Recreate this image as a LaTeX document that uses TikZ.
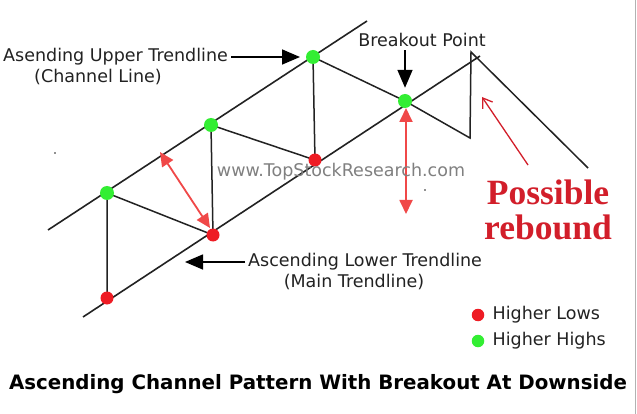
\documentclass[tikz,border=0pt]{standalone}
\usepackage{fontspec}
\setmainfont{DejaVu Sans}
\newfontfamily\rebfont{Liberation Serif}
\usetikzlibrary{positioning, arrows.meta, calc}
\definecolor{ptRed}{HTML}{EE1C24}
\definecolor{ptGreen}{HTML}{33EE33}
\definecolor{arRed}{HTML}{F04848}
\definecolor{txRed}{HTML}{D21E2A}
\definecolor{wmGray}{HTML}{808080}
\definecolor{lnDark}{HTML}{222222}
\tikzset{
  every node/.style={font=\fontsize{17.5}{20}\selectfont, text=lnDark},
  trend/.style={lnDark, line width=1.6pt},
  zig/.style={lnDark, line width=1.5pt},
  lowpt/.style={circle, fill=ptRed, minimum size=13pt, inner sep=0pt},
  highpt/.style={circle, fill=ptGreen, minimum size=14pt, inner sep=0pt},
  keypt/.style={circle, minimum size=12.5pt, inner sep=0pt},
  callout/.style={-{Triangle[length=18pt, width=15pt]}, black, line width=1.6pt},
  span/.style={{Triangle[length=14pt, width=13pt]}-{Triangle[length=14pt, width=13pt]}, arRed, line width=1.8pt},
}
\begin{document}
\begin{tikzpicture}[x=1pt, y=-1pt]
  \useasboundingbox[fill=white] (0,0) rectangle (637,414);
  \draw[gray!60, line width=1pt] (635,0) -- (635,414);
  % channel lines
  \coordinate (up0) at (48,230);
  \coordinate (up1) at (367,21);
  \coordinate (lo0) at (83,317);
  \coordinate (lo1) at (480,56);
  \draw[trend] (up0) -- (up1);
  \draw[trend] (lo0) -- (lo1);
  % swing points
  \coordinate (l1) at (107,298);
  \coordinate (h1) at (107,193);
  \coordinate (l2) at (213,235);
  \coordinate (h2) at (211,125);
  \coordinate (l3) at (315,160);
  \coordinate (h3) at (313,57);
  \coordinate (bo) at (405,101);
  \coordinate (z1) at (470,138);
  \coordinate (z2) at (471,52);
  \coordinate (z3) at (588,168);
  \draw[zig] (l1) -- (h1) -- (l2) -- (h2) -- (l3) -- (h3) -- (bo) -- (z1) -- (z2) -- (z3);
  % channel width arrows
  \coordinate (sp1a) at (160,152);
  \coordinate (sp1b) at (210,228);
  \coordinate (sp2a) at (406,108);
  \coordinate (sp2b) at (406,214);
  \draw[span] (sp1a) -- (sp1b);
  \draw[span] (sp2a) -- (sp2b);
  % dots
  \node[lowpt] (dl1) at (l1) {};
  \node[lowpt] (dl2) at (l2) {};
  \node[lowpt] (dl3) at (l3) {};
  \node[highpt] (dh1) at (h1) {};
  \node[highpt] (dh2) at (h2) {};
  \node[highpt] (dh3) at (h3) {};
  \node[highpt] (dbo) at (bo) {};
  % labels
  \node[anchor=west, inner sep=3pt] (upper) at (0,57) {Asending Upper Trendline};
  \node (upperb) at (98,77) {(Channel Line)};
  \draw[callout, shorten >=13pt] (upper.east) -- (upper.east -| dh3);
  \node (bpt) at (422,40) {Breakout Point};
  \draw[callout, shorten >=6pt] (bpt.south -| dbo) -- (dbo);
  \node[anchor=west, inner sep=3pt] (lower) at (245,262) {Ascending Lower Trendline};
  \node (lowerb) at (354,282) {(Main Trendline)};
  \coordinate (lotip) at (185,262);
  \draw[callout] (lower.west) -- (lotip);
  \node[text=wmGray] (wm) at (341,172) {www.TopStockResearch.com};
  % rebound
  \node[align=center, text=txRed, font=\rebfont\bfseries\fontsize{35.5}{35}\selectfont] (reb) at (548,210) {Possible\\rebound};
  \coordinate (rbtip) at (482,97);
  \coordinate (rbend) at (528,165);
  \draw[txRed, line width=1.3pt, -{Straight Barb[length=9pt, width=12pt]}] (rbend) -- (rbtip);
  % specks
  \fill[lnDark] (55,153) circle (0.9pt);
  \fill[lnDark] (425,190) circle (0.9pt);
  % legend
  \node[keypt, fill=ptRed] (kl) at (478,315) {};
  \node[anchor=west, inner sep=2pt] (kltx) at ([xshift=6pt]kl.east) {Higher Lows};
  \node[keypt, fill=ptGreen] (kh) at (478,341) {};
  \node[anchor=west, inner sep=2pt] (khtx) at ([xshift=6pt]kh.east) {Higher Highs};
  % title
  \node[font=\bfseries\fontsize{19.8}{22}\selectfont, text=black] (title) at (318,384) {Ascending Channel Pattern With Breakout At Downside};
\end{tikzpicture}
\end{document}
